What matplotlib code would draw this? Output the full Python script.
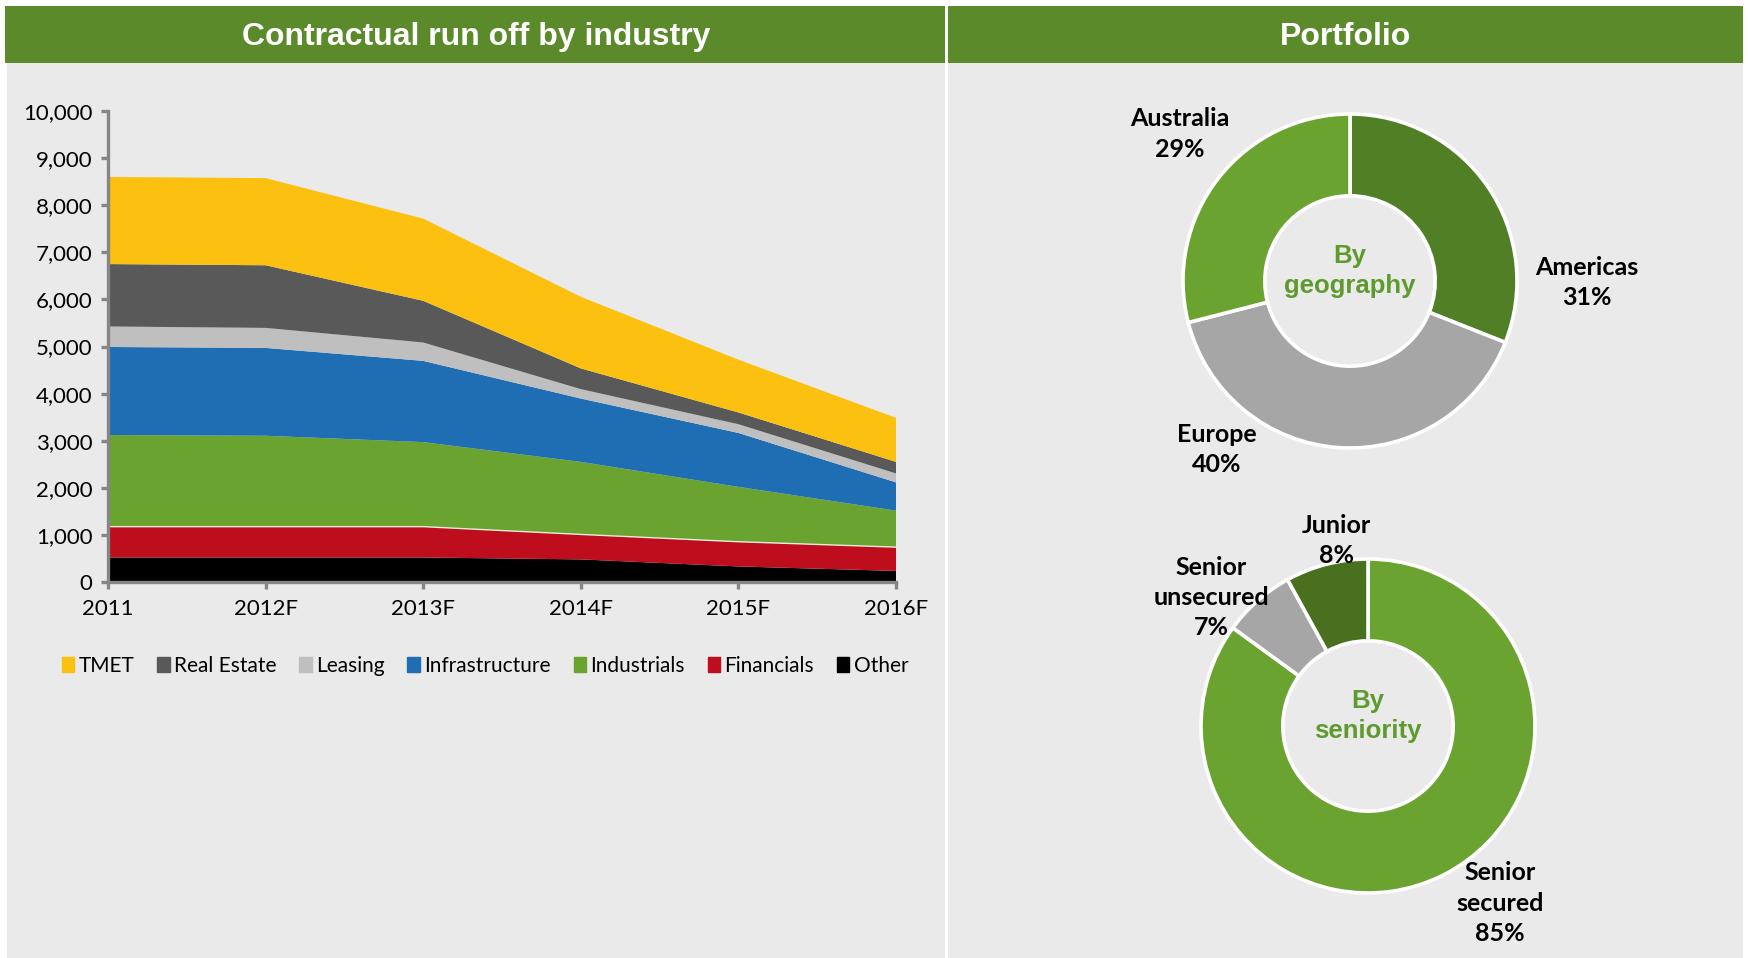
import numpy as np
import matplotlib.pyplot as plt
from matplotlib.patches import Rectangle, Patch
from matplotlib.ticker import FuncFormatter

# data
years = ['2011', '2012F', '2013F', '2014F', '2015F', '2016F']
other = [520, 520, 520, 480, 330, 235]
financials = [655, 655, 655, 530, 525, 505]
industrials = [1945, 1930, 1795, 1540, 1165, 775]
infrastructure = [1870, 1865, 1725, 1345, 1145, 600]
leasing = [435, 425, 390, 200, 185, 190]
real_estate = [1325, 1330, 885, 440, 250, 245]
tmet = [1850, 1850, 1745, 1520, 1120, 935]

geo_labels = ['Americas\n31%', 'Europe\n40%', 'Australia\n29%']
geo_values = [31, 40, 29]
sen_labels = ['Senior\nsecured\n85%', 'Senior\nunsecured\n7%', 'Junior\n8%']
sen_values = [85, 7, 8]

W, H = 1749, 958
GREEN = '#5a8a2a'
PANEL = '#eaeaea'
LABEL_FONT = ['Lato', 'DejaVu Sans']
TITLE_FONT = ['Liberation Sans', 'DejaVu Sans']


def box(x0, y0, x1, y1):
    return [x0 / W, 1 - y1 / H, (x1 - x0) / W, (y1 - y0) / H]


def rect(x0, y0, x1, y1, color):
    b = box(x0, y0, x1, y1)
    fig.add_artist(Rectangle((b[0], b[1]), b[2], b[3], transform=fig.transFigure,
                             color=color, lw=0, zorder=0))


fig = plt.figure(figsize=(W / 100, H / 100), dpi=100, facecolor='white')

# panels and headers
rect(7, 63, 945, 958, PANEL)
rect(948, 63, 1743, 958, PANEL)
rect(5, 6, 945, 63, GREEN)
rect(948, 6, 1743, 63, GREEN)
fig.text(476 / W, 1 - 37 / H, 'Contractual run off by industry', ha='center', va='center',
         color='white', fontsize=23, fontweight='bold', family=TITLE_FONT)
fig.text(1345.5 / W, 1 - 37 / H, 'Portfolio', ha='center', va='center',
         color='white', fontsize=23, fontweight='bold', family=TITLE_FONT)

# stacked area
ax = fig.add_axes(box(108, 111, 896, 582))
ax.set_facecolor('none')
x = np.arange(len(years))
series = [other, financials, industrials, infrastructure, leasing, real_estate, tmet]
names = ['Other', 'Financials', 'Industrials', 'Infrastructure', 'Leasing', 'Real Estate', 'TMET']
colors = ['#000000', '#be0e1e', '#6aa32f', '#1f6eb4', '#bfbfbf', '#595959', '#fbc010']
ax.stackplot(x, *series, colors=colors, lw=0)
fin_top = np.array(other) + np.array(financials)
ax.plot(x, fin_top, color='#e6eedd', lw=1)

ax.set_xlim(0, len(years) - 1)
ax.set_ylim(0, 10000)
ax.set_yticks(np.arange(0, 10001, 1000))
ax.yaxis.set_major_formatter(FuncFormatter(lambda v, p: f'{v:,.0f}'))
ax.set_xticks(x)
ax.set_xticklabels(years)
for s in ['top', 'right']:
    ax.spines[s].set_visible(False)
for s in ['left', 'bottom']:
    ax.spines[s].set_color('#868686')
    ax.spines[s].set_linewidth(2.4)
    ax.spines[s].set_zorder(5)
ax.tick_params(axis='both', colors='#868686', width=2.4, length=5, labelcolor='black',
               labelsize=16)
ax.tick_params(axis='y', pad=6)
ax.tick_params(axis='x', pad=7)
for t in ax.get_xticklabels() + ax.get_yticklabels():
    t.set_family(LABEL_FONT)

handles = [Patch(color=c, label=n) for n, c in zip(names[::-1], colors[::-1])]
fig.legend(handles=handles, loc='center', bbox_to_anchor=(485 / W, 1 - 666 / H), ncol=7,
           frameon=False, prop={'family': LABEL_FONT, 'size': 15}, handlelength=0.6,
           handleheight=0.7, handletextpad=0.2, columnspacing=1.1)


def donut(cx, cy, r, values, cols, labels, label_pos, center_text):
    a = fig.add_axes(box(cx - 1.1 * r, cy - 1.1 * r, cx + 1.1 * r, cy + 1.1 * r))
    a.pie(values, colors=cols, startangle=90, counterclock=False, radius=1,
          wedgeprops=dict(width=0.49, edgecolor='white', linewidth=2.6))
    a.set_xlim(-1.1, 1.1)
    a.set_ylim(-1.1, 1.1)
    a.axis('off')
    for lab, (lx, ly) in zip(labels, label_pos):
        a.text(lx, ly, lab, ha='center', va='center', fontsize=18, fontweight='bold',
               family=LABEL_FONT, linespacing=1.38)
    a.text(0, 0.06, center_text, ha='center', va='center', fontsize=18.5, fontweight='bold',
           color='#5f9a2e', family=TITLE_FONT, linespacing=1.3)


donut(1350, 281, 167, geo_values, ['#507f26', '#a6a6a6', '#6aa32f'], geo_labels,
      [(1.42, -0.01), (-0.80, -1.01), (-1.02, 0.88)], 'By\ngeography')
donut(1368, 726, 167, sen_values, ['#6aa32f', '#a6a6a6', '#48701f'], sen_labels,
      [(0.79, -1.06), (-0.94, 0.77), (-0.19, 1.11)], 'By\nseniority')

fig.savefig('out.png', dpi=100, facecolor='white')
